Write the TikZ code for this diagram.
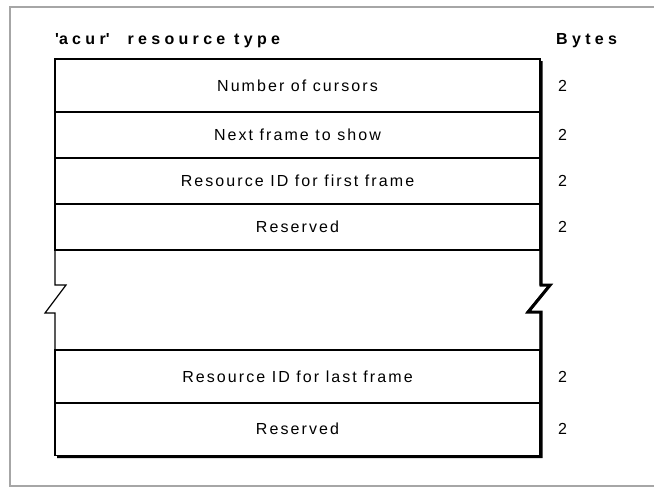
\documentclass[tikz,border=0pt]{standalone}
\usepackage{fontspec}
\setmainfont{Liberation Sans}
\newfontfamily\bodyf[LetterSpace=13]{Liberation Sans}
\newfontfamily\headf[LetterSpace=27]{Liberation Sans Bold}
\usetikzlibrary{calc}
\tikzset{
  rowbox/.style={draw, line width=1.2pt, minimum width=485pt, inner sep=0pt, outer sep=0pt, font=\bodyf\fontsize{16}{18}\selectfont},
  bytecell/.style={font=\bodyf\fontsize{16}{18}\selectfont, inner sep=0pt},
  headtext/.style={font=\headf\fontsize{16}{18}\selectfont, anchor=west, inner sep=0pt},
  edge/.style={line width=1.2pt},
  shadowline/.style={line width=3pt},
  framebox/.style={draw=black!35, line width=1.4pt}
}
\begin{document}
\begin{tikzpicture}[x=1pt,y=-1pt]
\useasboundingbox (0,0) rectangle (654,488);
\draw[framebox] (654,7) -- (10,7) -- (10,486) -- (654,486);

\node[headtext] (hdr) at (55,41) {\textquotesingle acur\textquotesingle\hspace{18pt}resource type};
\node[headtext] (bytes) at (556,41) {Bytes};

\node[rowbox, minimum height=53pt] (r1) at (297.5,85.5) {Number of cursors};
\node[rowbox, minimum height=46pt] (r2) at (297.5,135) {Next frame to show};
\node[rowbox, minimum height=46pt] (r3) at (297.5,181) {Resource ID for first frame};
\node[rowbox, minimum height=46pt] (r4) at (297.5,227) {Reserved};
\node[rowbox, minimum height=53pt] (r5) at (297.5,376.5) {Resource ID for last frame};
\node[rowbox, minimum height=53pt] (r6) at (297.5,429) {Reserved};

\foreach \r in {1,...,6} {
  \node[bytecell, anchor=west] (b\r) at ($(r\r.east)+(18,0)$) {2};
}

% gap with break marks
\draw[edge] (r4.south west) -- ++(0,35) -- ++(11,0) -- ++(-21,28) -- ++(10,0) -- (r5.north west);
\draw[edge] (r4.south east) -- ++(0,35) -- ++(9,0) -- ++(-22,27) -- ++(13,0) -- (r5.north east);

% drop shadow
\draw[shadowline] ([xshift=1.2pt,yshift=-2pt]r1.north east) -- ([xshift=1.2pt]r4.south east) -- ++(0,35) -- ++(9,0) -- ++(-22,27) -- ++(13,0) -- ([xshift=1.2pt]r6.south east) -- ([xshift=1.2pt,yshift=-1.2pt]r6.south east) -- ([xshift=2pt,yshift=-1.2pt]r6.south west);
\end{tikzpicture}
\end{document}
